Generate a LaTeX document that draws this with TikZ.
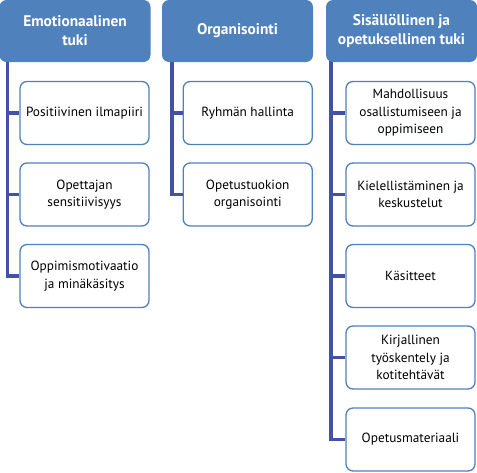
\documentclass[tikz,border=0pt]{standalone}
\usepackage{fontspec}
\setmainfont{PT Sans}
\definecolor{hdr}{HTML}{4F81BD}
\definecolor{conn}{HTML}{4352A4}
\tikzset{
  hdrbox/.style={rectangle, rounded corners=7pt, fill=hdr, text=white, align=center,
    font=\bfseries\fontsize{15.4}{19}\selectfont, minimum width=151pt, minimum height=62pt, inner sep=0pt},
  childbox/.style={rectangle, rounded corners=7pt, draw=hdr, line width=1.3pt, fill=white, align=center,
    font=\fontsize{13.3}{17.5}\selectfont, minimum width=129pt, minimum height=63pt, inner sep=0pt},
  connline/.style={draw=conn, line width=3.2pt}
}
\begin{document}
\begin{tikzpicture}[x=1pt,y=-1pt]
\useasboundingbox (0,0) rectangle (477,472);
\coordinate (t1) at (7.5,60);
\coordinate (t2) at (172,60);
\coordinate (t3) at (331,60);
\node[childbox] (c11) at (84.5,113) {Positiivinen ilmapiiri};
\node[childbox] (c12) at (84.5,194.5) {Opettajan\\sensitiivisyys};
\node[childbox] (c13) at (84.5,276) {Oppimismotivaatio\\ja minäkäsitys};
\node[childbox] (c21) at (247.7,113) {Ryhmän hallinta};
\node[childbox] (c22) at (247.7,194.5) {Opetustuokion\\organisointi};
\node[childbox] (c31) at (410.5,113) {Mahdollisuus\\osallistumiseen ja\\oppimiseen};
\node[childbox] (c32) at (410.5,194.5) {Kielellistäminen ja\\keskustelut};
\node[childbox] (c33) at (410.5,276) {Käsitteet};
\node[childbox] (c34) at (410.5,357.5) {Kirjallinen\\työskentely ja\\kotitehtävät};
\node[childbox] (c35) at (410.5,439.5) {Opetusmateriaali};
\draw[connline] (t1) |- (c13.west);
\draw[connline] (t1 |- c11.west) -- (c11.west);
\draw[connline] (t1 |- c12.west) -- (c12.west);
\draw[connline] (t2) |- (c22.west);
\draw[connline] (t2 |- c21.west) -- (c21.west);
\draw[connline] (t3) |- (c35.west);
\draw[connline] (t3 |- c31.west) -- (c31.west);
\draw[connline] (t3 |- c32.west) -- (c32.west);
\draw[connline] (t3 |- c33.west) -- (c33.west);
\draw[connline] (t3 |- c34.west) -- (c34.west);
\node[hdrbox] (h1) at (75,31) {Emotionaalinen\\tuki};
\node[hdrbox] (h2) at (237.5,31) {Organisointi};
\node[hdrbox] (h3) at (401.5,31) {Sisällöllinen ja\\opetuksellinen tuki};
\end{tikzpicture}
\end{document}
